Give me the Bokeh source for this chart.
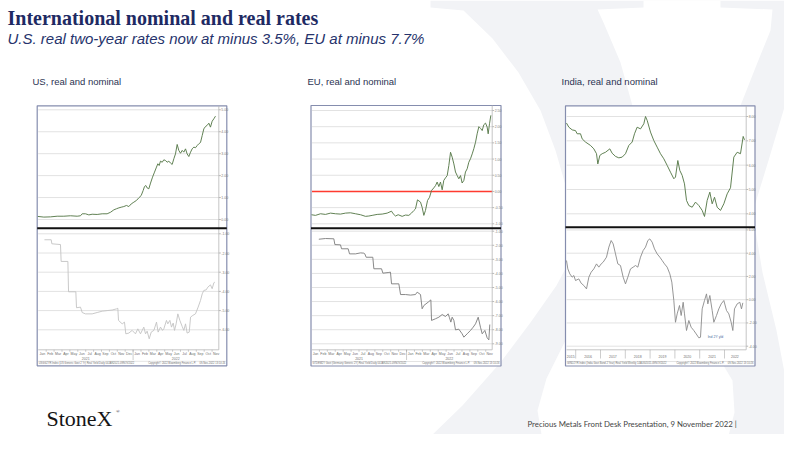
from bokeh.plotting import figure
from bokeh.models import Range1d
from bokeh.embed import file_html
from bokeh.resources import INLINE
from bokeh.core.properties import value

# ------------------------------------------------------------------ texts
TITLE = "International nominal and real rates"
SUBTITLE = "U.S. real two-year rates now at minus 3.5%, EU at minus 7.7%"
PANEL_TITLES = ["US, real and nominal", "EU, real and nominal", "India, real and nominal"]
FOOTER = "Precious Metals Front Desk Presentation, 9 November 2022 |"
LOGO = "StoneX"
MONTHS = ["Jan", "Feb", "Mar", "Apr", "May", "Jun", "Jul", "Aug", "Sep", "Oct", "Nov", "Dec",
          "Jan", "Feb", "Mar", "Apr", "May", "Jun", "Jul", "Aug", "Sep", "Oct", "Nov"]
MONTH_YEARS = ["2021", "2022"]
INDIA_YEARS = ["2015", "2016", "2017", "2018", "2019", "2020", "2021", "2022"]

# ------------------------------------------------------------------ data (decimal years, percent)
us_nominal_t = [2020.995, 2021.058, 2021.129, 2021.199, 2021.269, 2021.340, 2021.410, 2021.445, 2021.463, 2021.498,
                2021.533, 2021.568, 2021.621, 2021.674, 2021.726, 2021.762, 2021.797, 2021.825, 2021.850, 2021.874,
                2021.902, 2021.930, 2021.955, 2021.980, 2022.008, 2022.036, 2022.061, 2022.085, 2022.106, 2022.120,
                2022.134, 2022.148, 2022.166, 2022.184, 2022.205, 2022.226, 2022.247, 2022.261, 2022.275, 2022.289,
                2022.307, 2022.324, 2022.342, 2022.359, 2022.377, 2022.395, 2022.412, 2022.430, 2022.447, 2022.465,
                2022.482, 2022.500, 2022.518, 2022.535, 2022.553, 2022.570, 2022.588, 2022.606, 2022.623, 2022.641,
                2022.658, 2022.676, 2022.693, 2022.711, 2022.729, 2022.746, 2022.764, 2022.781, 2022.799, 2022.816,
                2022.834, 2022.852, 2022.869]
us_nominal_v = [0.14, 0.11, 0.12, 0.15, 0.15, 0.17, 0.15, 0.17, 0.26, 0.26,
                0.21, 0.24, 0.23, 0.26, 0.26, 0.33, 0.44, 0.49, 0.53, 0.56,
                0.59, 0.64, 0.59, 0.71, 0.79, 0.87, 0.99, 1.09, 1.32, 1.50,
                1.55, 1.44, 1.40, 1.66, 1.93, 2.16, 2.39, 2.54, 2.46, 2.66,
                2.61, 2.72, 2.69, 2.61, 2.66, 2.57, 2.51, 2.77, 2.99, 3.42,
                3.15, 3.02, 3.15, 3.07, 3.22, 2.99, 2.87, 3.07, 3.22, 3.30,
                3.27, 3.37, 3.45, 3.51, 3.83, 4.13, 4.24, 4.29, 4.39, 4.21,
                4.48, 4.59, 4.71]
us_real_t = [2021.065, 2021.136, 2021.143, 2021.234, 2021.241, 2021.312, 2021.319, 2021.396, 2021.403, 2021.445,
             2021.463, 2021.498, 2021.568, 2021.621, 2021.674, 2021.726, 2021.779, 2021.825, 2021.839, 2021.846,
             2021.885, 2021.909, 2021.923, 2021.955, 2021.990, 2022.025, 2022.050, 2022.078, 2022.096, 2022.113,
             2022.131, 2022.148, 2022.170, 2022.191, 2022.219, 2022.247, 2022.264, 2022.289, 2022.310, 2022.324,
             2022.352, 2022.366, 2022.388, 2022.405, 2022.423, 2022.437, 2022.454, 2022.472, 2022.493, 2022.518,
             2022.535, 2022.553, 2022.570, 2022.592, 2022.606, 2022.630, 2022.658, 2022.686, 2022.711, 2022.729,
             2022.746, 2022.771, 2022.788, 2022.816, 2022.834, 2022.852, 2022.862]
us_real_v = [-1.31, -1.31, -1.52, -1.56, -2.44, -2.44, -4.02, -4.02, -4.85, -4.82,
             -5.10, -5.17, -5.17, -5.10, -5.03, -5.00, -4.97, -4.91, -4.88, -5.51,
             -5.69, -5.60, -6.21, -6.17, -6.03, -6.21, -5.95, -6.21, -6.03, -5.86,
             -6.21, -6.07, -6.47, -6.12, -6.03, -5.60, -6.12, -5.86, -6.03, -5.95,
             -5.51, -5.69, -5.51, -5.86, -5.65, -6.03, -5.69, -5.17, -5.51, -5.83,
             -6.03, -5.69, -6.17, -6.12, -5.34, -5.25, -5.17, -4.82, -4.47, -4.13,
             -3.95, -3.92, -3.78, -3.66, -3.86, -3.55, -3.52]

eu_nominal_t = [2021.000, 2021.042, 2021.095, 2021.147, 2021.200, 2021.253, 2021.305, 2021.358, 2021.410, 2021.463,
                2021.516, 2021.568, 2021.603, 2021.638, 2021.691, 2021.744, 2021.796, 2021.842, 2021.859, 2021.884,
                2021.912, 2021.954, 2021.989, 2022.024, 2022.052, 2022.077, 2022.094, 2022.115, 2022.147, 2022.164,
                2022.182, 2022.199, 2022.221, 2022.242, 2022.263, 2022.287, 2022.305, 2022.322, 2022.340, 2022.357,
                2022.375, 2022.392, 2022.410, 2022.428, 2022.445, 2022.463, 2022.480, 2022.498, 2022.515, 2022.533,
                2022.550, 2022.568, 2022.585, 2022.603, 2022.620, 2022.638, 2022.655, 2022.673, 2022.691, 2022.708,
                2022.726, 2022.743, 2022.761, 2022.778, 2022.796, 2022.813, 2022.831, 2022.848, 2022.859, 2022.873,
                2022.887]
eu_nominal_v = [-0.72, -0.74, -0.69, -0.71, -0.67, -0.69, -0.70, -0.67, -0.66, -0.69,
                -0.72, -0.77, -0.76, -0.74, -0.71, -0.70, -0.67, -0.61, -0.69, -0.76,
                -0.72, -0.77, -0.73, -0.74, -0.67, -0.59, -0.54, -0.26, -0.33, -0.49,
                -0.74, -0.59, -0.28, -0.18, 0.03, 0.11, 0.18, 0.29, 0.15, 0.29,
                0.05, 0.34, 0.42, 0.49, 0.80, 1.21, 1.06, 0.85, 0.60, 0.49,
                0.39, 0.49, 0.26, 0.34, 0.60, 0.70, 0.90, 1.01, 1.16, 1.32,
                1.52, 1.78, 2.00, 1.95, 1.88, 2.06, 2.11, 1.99, 1.78, 2.09,
                2.35]
eu_real_t = [2021.077, 2021.147, 2021.235, 2021.246, 2021.305, 2021.316, 2021.386, 2021.400, 2021.463, 2021.516,
             2021.551, 2021.561, 2021.575, 2021.645, 2021.656, 2021.737, 2021.751, 2021.814, 2021.831, 2021.842,
             2021.919, 2021.937, 2021.989, 2022.042, 2022.094, 2022.112, 2022.147, 2022.164, 2022.182, 2022.228,
             2022.256, 2022.263, 2022.305, 2022.340, 2022.375, 2022.410, 2022.438, 2022.452, 2022.466, 2022.480,
             2022.498, 2022.515, 2022.550, 2022.585, 2022.603, 2022.638, 2022.673, 2022.701, 2022.726, 2022.754,
             2022.778, 2022.796, 2022.824, 2022.848, 2022.866, 2022.876]
eu_real_v = [-1.57, -1.52, -1.54, -1.95, -1.97, -2.25, -2.25, -2.61, -2.61, -2.54,
             -2.56, -2.61, -2.85, -2.85, -3.67, -3.67, -3.98, -3.93, -3.91, -4.74,
             -4.74, -5.50, -5.50, -5.54, -5.50, -5.33, -5.50, -6.51, -6.28, -6.04,
             -5.88, -7.34, -7.22, -7.11, -6.92, -7.06, -6.87, -7.15, -7.46, -7.11,
             -7.34, -8.01, -7.96, -8.29, -8.53, -8.29, -8.05, -7.82, -7.58, -7.11,
             -7.82, -8.29, -8.05, -8.57, -8.72, -7.63]

india_nominal_t = [2015.629, 2015.723, 2015.858, 2015.992, 2016.059, 2016.194, 2016.261, 2016.395, 2016.597, 2016.731,
                   2016.839, 2016.892, 2016.973, 2017.067, 2017.202, 2017.376, 2017.470, 2017.605, 2017.739, 2017.874,
                   2018.008, 2018.142, 2018.277, 2018.371, 2018.478, 2018.613, 2018.747, 2018.815, 2018.882, 2019.016,
                   2019.150, 2019.285, 2019.419, 2019.554, 2019.688, 2019.823, 2019.957, 2020.024, 2020.118, 2020.199,
                   2020.293, 2020.387, 2020.468, 2020.562, 2020.696, 2020.831, 2020.965, 2021.100, 2021.194, 2021.301,
                   2021.409, 2021.503, 2021.597, 2021.704, 2021.839, 2021.973, 2022.108, 2022.242, 2022.376, 2022.511,
                   2022.645, 2022.753, 2022.806]
india_nominal_v = [7.73, 7.56, 7.45, 7.42, 7.29, 7.29, 7.08, 6.95, 6.81, 6.67,
                   6.47, 6.05, 6.40, 6.47, 6.53, 6.67, 6.49, 6.36, 6.30, 6.33,
                   6.47, 6.81, 6.95, 7.29, 7.56, 7.49, 7.70, 8.00, 7.84, 7.36,
                   7.01, 6.74, 6.47, 6.26, 5.99, 5.71, 5.44, 5.51, 6.19, 5.78,
                   5.58, 5.23, 4.55, 4.34, 4.27, 4.48, 4.34, 4.14, 3.89, 4.55,
                   4.89, 4.41, 4.68, 4.27, 4.14, 4.41, 4.82, 5.07, 6.33, 6.53,
                   6.47, 7.18, 7.04]
india_real_t = [2015.629, 2015.683, 2015.763, 2015.858, 2015.925, 2015.992, 2016.126, 2016.220, 2016.328, 2016.435,
                2016.530, 2016.624, 2016.731, 2016.839, 2016.933, 2017.027, 2017.108, 2017.242, 2017.336, 2017.430,
                2017.511, 2017.605, 2017.699, 2017.806, 2017.914, 2018.008, 2018.102, 2018.210, 2018.317, 2018.411,
                2018.505, 2018.613, 2018.720, 2018.815, 2018.909, 2018.989, 2019.083, 2019.177, 2019.285, 2019.392,
                2019.487, 2019.581, 2019.688, 2019.796, 2019.876, 2019.957, 2020.024, 2020.091, 2020.185, 2020.253,
                2020.333, 2020.387, 2020.468, 2020.562, 2020.656, 2020.763, 2020.858, 2020.965, 2021.032, 2021.100,
                2021.194, 2021.274, 2021.328, 2021.409, 2021.503, 2021.570, 2021.677, 2021.771, 2021.866, 2021.973,
                2022.081, 2022.175, 2022.269, 2022.336, 2022.403, 2022.511, 2022.618, 2022.685, 2022.739]
india_real_v = [3.37, 2.65, 2.22, 1.94, 2.08, 1.65, 1.79, 1.42, 1.22, 0.93,
                1.94, 2.37, 2.65, 3.08, 2.80, 3.08, 3.23, 3.66, 4.52, 5.09,
                4.80, 3.94, 3.08, 2.94, 1.94, 1.36, 1.94, 2.65, 2.80, 2.94,
                2.80, 3.66, 4.23, 4.52, 5.09, 5.23, 4.95, 4.37, 3.94, 3.66,
                3.37, 3.08, 2.80, 2.22, 1.51, -0.07, -1.94, -1.22, -0.50, -1.36,
                -0.22, -1.22, -2.65, -1.79, -2.37, -2.65, -2.94, -3.28, -3.23, -0.79,
                -0.07, 0.50, -0.36, 0.36, -0.93, -1.94, -1.36, -0.79, -0.36, -0.07,
                -0.93, -1.22, -1.94, -2.65, -0.79, -0.36, -0.22, -0.79, -0.27]

us_top_ticks = [5.0, 4.0, 3.0, 2.0, 1.0, 0.0]
us_bottom_ticks = [-1.0, -2.0, -3.0, -4.0, -5.0, -6.0]
eu_top_ticks = [2.5, 2.0, 1.5, 1.0, 0.5, 0.0, -0.5, -1.0]
eu_bottom_ticks = [-1.0, -2.0, -3.0, -4.0, -5.0, -6.0, -7.0, -8.0, -9.0]
india_top_ticks = [8.0, 7.0, 6.0, 5.0, 4.0]
india_bottom_ticks = [6.0, 4.0, 2.0, 0.0, -2.0, -4.0]

# ------------------------------------------------------------------ canvas (slide pixel coordinates)
W, H = 784, 434
p = figure(width=W, height=H, x_range=Range1d(0, W), y_range=Range1d(H, 0),
           output_backend="svg", toolbar_location=None, x_axis_type=None, y_axis_type=None,
           min_border=0, outline_line_color=None)
p.background_fill_color = "white"
p.border_fill_color = "white"

NAVY = "#1e2a63"
WM = "#f2f3f6"
NOMINAL = "#587a4b"

# watermark X (decoration)
wm_outer = [(430, 0), (800, 0), (800, 452), (418, 452), (418, 443), (428, 438), (462, 405), (500, 362),
            (530, 322), (556, 285), (572, 255), (578, 232), (568, 195), (555, 150), (540, 110), (518, 72),
            (492, 38), (463, 10), (430, 7)]
wm_upper = [(643, 0), (720, 0), (720, 7), (772, 9), (770, 30), (757, 62), (742, 100), (722, 150), (695, 195),
            (666, 215), (648, 190), (636, 120), (620, 62), (603, 22), (597, 9), (643, 7)]
wm_right = [(802, 52), (786, 100), (768, 160), (752, 212), (762, 272), (776, 330), (784, 372), (802, 392)]
wm_bottom = [(630, 240), (662, 292), (708, 340), (732, 380), (734, 412), (726, 443), (686, 443), (686, 452),
             (587, 452), (587, 443), (542, 440), (537, 410), (546, 378), (566, 338), (600, 290)]
p.patch([a for a, b in wm_outer], [b for a, b in wm_outer], fill_color=WM, line_color=None)
for poly in (wm_upper, wm_right, wm_bottom):
    p.patch([a for a, b in poly], [b for a, b in poly], fill_color="white", line_color=None)

# titles
p.text(x=[7], y=[17.5], text=[TITLE], text_font=value("Liberation Serif"), text_font_style="bold",
       text_font_size="20px", text_color=NAVY, text_baseline="middle")
p.text(x=[7], y=[37.5], text=[SUBTITLE], text_font=value("Liberation Sans"), text_font_style="italic",
       text_font_size="15px", text_color="#26336c", text_baseline="middle")
for xx, t in zip([32, 307, 561], PANEL_TITLES):
    p.text(x=[xx], y=[81], text=[t], text_font=value("Liberation Sans"), text_font_size="9.5px",
           text_color="#2b3352", text_baseline="middle")

# footer
p.text(x=[46], y=[418], text=[LOGO], text_font=value("Liberation Serif"), text_font_size="22px",
       text_color="#151515", text_baseline="middle")
p.text(x=[115.5], y=[410.5], text=["\u00ae"], text_font=value("Liberation Serif"), text_font_size="5px",
       text_color="#151515", text_baseline="middle")
p.text(x=[527], y=[423.5], text=[FOOTER], text_font=value("Lato"), text_font_size="7.8px",
       text_color="#454545", text_baseline="middle")


def lin_range(a0, s0, a1, s1, lo, hi):
    k = (a1 - a0) / (s1 - s0)
    return Range1d(a0 + (lo - s0) * k, a0 + (hi - s0) * k)


def chart(key, frame, plot_r, divider, axis_y, xcal, top_cal, bot_cal,
          top_t, top_v, bot_t, bot_v, top_ticks, bot_ticks, real_color, fmt, zero_line=False):
    fl, fr, ft, fb = frame
    xr, yt, yb = key + "_x", key + "_top", key + "_bot"
    p.extra_x_ranges[xr] = lin_range(xcal[0], xcal[1], xcal[2], xcal[3], 0, W)
    p.extra_y_ranges[yt] = lin_range(top_cal[0], top_cal[1], top_cal[2], top_cal[3], H, 0)
    p.extra_y_ranges[yb] = lin_range(bot_cal[0], bot_cal[1], bot_cal[2], bot_cal[3], H, 0)
    # frame
    p.quad(left=[fl], right=[fr], top=[ft], bottom=[fb], fill_color="white", line_color="#858dae", line_width=1.2)
    # gridlines + tick labels
    for rn, ticks in ((yt, top_ticks), (yb, bot_ticks)):
        n = len(ticks)
        p.segment(x0=[fl + 1] * n, x1=[plot_r] * n, y0=ticks, y1=ticks, y_range_name=rn,
                  line_color="#e2e2e2", line_width=1)
        p.segment(x0=[plot_r] * n, x1=[plot_r + 2] * n, y0=ticks, y1=ticks, y_range_name=rn,
                  line_color="#9a9a9a", line_width=0.7)
        p.text(x=[plot_r + 2.5] * n, y=ticks, text=[fmt % v for v in ticks], y_range_name=rn,
               text_font=value("Liberation Sans"), text_font_size="3.5px", text_color="#808080",
               text_baseline="middle")
    if zero_line:
        p.segment(x0=[fl + 1], x1=[plot_r], y0=[0.0], y1=[0.0], y_range_name=yt,
                  line_color="#ff3b2f", line_width=1.4)
    # right axis / bottom axis
    p.segment(x0=[plot_r], x1=[plot_r], y0=[ft], y1=[axis_y], line_color="#b8b8b8", line_width=0.8)
    p.segment(x0=[fl + 1], x1=[plot_r], y0=[axis_y], y1=[axis_y], line_color="#b8b8b8", line_width=0.8)
    p.segment(x0=[fl + 1], x1=[fr - 1], y0=[fb - 4.5], y1=[fb - 4.5], line_color="#d0d0d0", line_width=0.6)
    # series
    p.line(top_t, top_v, x_range_name=xr, y_range_name=yt, line_color=NOMINAL, line_width=0.95)
    p.line(bot_t, bot_v, x_range_name=xr, y_range_name=yb, line_color=real_color, line_width=0.9)
    # divider
    p.segment(x0=[fl], x1=[fr], y0=[divider], y1=[divider], line_color="#111111", line_width=2)
    return xr, yt, yb


FMT = "%.2f"
# US
us_x, us_top, us_bot = chart("us", (36.7, 226.3, 105.3, 365.3), 218.3, 227.7, 349.3,
                             (2021.0, 37.8, 2022.0, 132.6), (5.0, 109.3, 0.0, 219.0), (-1.0, 233.3, -6.0, 329.3),
                             us_nominal_t, us_nominal_v, us_real_t, us_real_v, us_top_ticks, us_bottom_ticks,
                             "#c3c3c3", FMT)
# EU (zero line in red)
eu_x, eu_top, eu_bot = chart("eu", (310.5, 500.5, 105.0, 365.5), 491.7, 227.7, 349.3,
                             (2021.0, 311.0, 2022.0, 406.04), (2.5, 110.0, -1.0, 223.3), (-1.0, 230.7, -9.0, 343.3),
                             eu_nominal_t, eu_nominal_v, eu_real_t, eu_real_v, eu_top_ticks, eu_bottom_ticks,
                             "#7c7c7c", FMT, zero_line=True)
# India
in_x, in_top, in_bot = chart("india", (565.0, 754.5, 105.3, 365.5), 745.7, 226.7, 349.3,
                             (2017.0, 600.0, 2018.0, 624.8), (8.0, 116.0, 4.0, 213.3), (4.0, 252.7, -4.0, 345.7),
                             india_nominal_t, india_nominal_v, india_real_t, india_real_v,
                             india_top_ticks, india_bottom_ticks, "#8a8a8a", FMT)
p.text(x=[2021.32], y=[-3.2], text=["Ind 2Y yld"], x_range_name=in_x, y_range_name=in_bot,
       text_font=value("Liberation Sans"), text_font_size="3.5px", text_color="#4a6aa0", text_baseline="middle")

small = dict(text_font=value("Liberation Sans"), text_font_size="3.5px", text_color="#707070",
             text_baseline="middle", text_align="center")

# month axes (US, EU)
month_pos = [2021.0 + (i + 0.5) / 12.0 for i in range(len(MONTHS))]
for xr in (us_x, eu_x):
    p.text(x=month_pos, y=[353.0] * len(MONTHS), text=MONTHS, x_range_name=xr, **small)
    p.text(x=[2021.5, 2022.45], y=[357.5, 357.5], text=MONTH_YEARS, x_range_name=xr, **small)
    bnd = [2021.0 + i / 12.0 for i in range(1, len(MONTHS))]
    p.segment(x0=bnd, x1=bnd, y0=[349.3] * len(bnd), y1=[351.3] * len(bnd), x_range_name=xr,
              line_color="#9a9a9a", line_width=0.5)
    p.segment(x0=[2022.0], x1=[2022.0], y0=[349.3], y1=[359.5], x_range_name=xr,
              line_color="#9a9a9a", line_width=0.5)

# India year axis
year_pos = [2015.8, 2016.5, 2017.5, 2018.5, 2019.5, 2020.5, 2021.5, 2022.42]
p.text(x=year_pos, y=[355.5] * len(year_pos), text=INDIA_YEARS, x_range_name=in_x, **small)
ybnd = [2016.0, 2017.0, 2018.0, 2019.0, 2020.0, 2021.0, 2022.0]
p.segment(x0=ybnd, x1=ybnd, y0=[349.3] * len(ybnd), y1=[358.0] * len(ybnd), x_range_name=in_x,
          line_color="#9a9a9a", line_width=0.5)

# source lines
src_left = ["USGG2YR Index (US Generic Govt 2 Yr) Real Yield  Daily 04JAN2021-09NOV2022",
            "GTDEM2Y Govt (Germany Generic 2Y) Real Yield  Daily 04JAN2021-09NOV2022",
            "GIND2YR Index (India Govt Bond 2 Year) Real Yield  Weekly 14AUG2015-09NOV2022"]
for (fl, fr), s in zip([(36.7, 226.3), (310.5, 500.5), (565.0, 754.5)], src_left):
    p.text(x=[fl + 1.5], y=[362.8], text=[s], text_font=value("Liberation Sans"), text_font_size="2.6px",
           text_color="#707070", text_baseline="middle")
    p.text(x=[(fl + fr) / 2 + 40], y=[362.8], text=["Copyright\u00a9 2022 Bloomberg Finance L.P."],
           text_font=value("Liberation Sans"), text_font_size="2.6px", text_color="#707070",
           text_baseline="middle", text_align="center")
    p.text(x=[fr - 1.5], y=[362.8], text=["09-Nov-2022 13:10:26"], text_font=value("Liberation Sans"),
           text_font_size="2.6px", text_color="#707070", text_baseline="middle", text_align="right")

open("out.html", "w").write(file_html(p, INLINE))
